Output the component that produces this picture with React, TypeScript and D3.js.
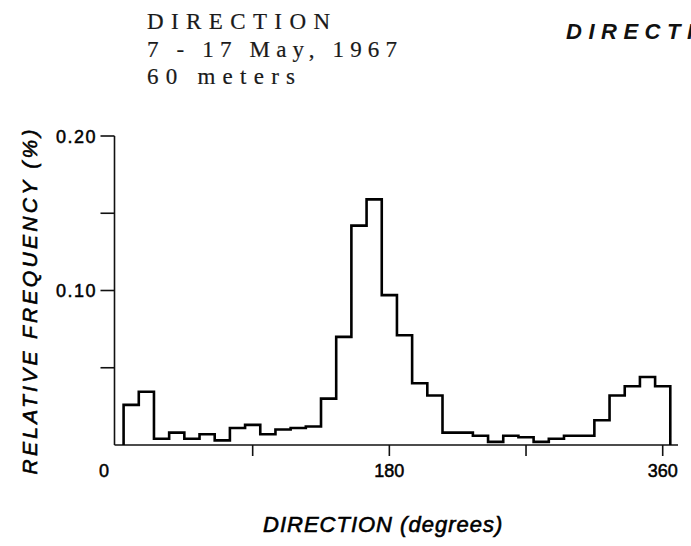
import React from "react";
import * as d3 from "d3";

const binCenters = [10,20,30,40,50,60,70,80,90,100,110,120,130,140,150,160,170,180,190,200,210,220,230,240,250,260,270,280,290,300,310,320,330,340,350,360];
const freq = [0.026,0.0345,0.004,0.008,0.004,0.007,0.003,0.011,0.013,0.007,0.010,0.011,0.012,0.030,0.070,0.142,0.159,0.097,0.071,0.040,0.032,0.008,0.008,0.006,0.002,0.006,0.005,0.002,0.004,0.006,0.006,0.016,0.032,0.038,0.044,0.038];
const binWidth = 10;
const xTicks = [90, 180, 270, 360];
const xTickLabels = [{ v: 0, t: "0" }, { v: 180, t: "180" }, { v: 360, t: "360" }];
const yTicks = [0.05, 0.10, 0.15, 0.20];
const yTickLabels = [{ v: 0.10, t: "0.10" }, { v: 0.20, t: "0.20" }];
const titleLines = ["DIRECTION", "7 - 17 May, 1967", "60 meters"];

export default function App() {
  const W = 691, H = 546;
  const x = d3.scaleLinear().domain([0, 360]).range([116, 662.7]);
  const y = d3.scaleLinear().domain([0, 0.2]).range([445, 136]);
  const axisX = 114.5;

  const pts: [number, number][] = [];
  pts.push([x(binCenters[0] - binWidth / 2), y(0)]);
  binCenters.forEach((c, i) => {
    pts.push([x(c - binWidth / 2), y(freq[i])]);
    pts.push([x(c + binWidth / 2), y(freq[i])]);
  });
  pts.push([x(binCenters[binCenters.length - 1] + binWidth / 2), y(0)]);
  const path = d3.line()(pts) || "";

  const sans = "'Liberation Sans', Arial, sans-serif";
  const serif = "'Liberation Serif', 'Times New Roman', serif";

  return (
    <svg width={W} height={H} style={{ position: "fixed", left: 0, top: 0, background: "#fff" }}>
      <rect x={0} y={0} width={W} height={H} fill="#fff" />
      {/* title */}
      {titleLines.map((t, i) => (
        <text key={t} x={147} y={29 + i * 27.5} fontFamily={serif} fontSize={23}
          textLength={[183, 250, 148][i]} lengthAdjust="spacing" fill="#1a1a1a"
          stroke="#1a1a1a" strokeWidth={0.2}>{t}</text>
      ))}
      <text x={566} y={39} fontFamily={sans} fontStyle="italic" fontWeight="bold" fontSize={22}
        letterSpacing={6.5} fill="#111">DIRECTION</text>

      {/* axes */}
      <line x1={axisX} y1={y(0.2)} x2={axisX} y2={y(0)} stroke="#111" strokeWidth={1.6} />
      <line x1={axisX} y1={y(0)} x2={678} y2={y(0)} stroke="#111" strokeWidth={1.6} />
      {yTicks.map(v => (
        <line key={v} x1={axisX - 14} x2={axisX} y1={y(v)} y2={y(v)} stroke="#111" strokeWidth={1.6} />
      ))}
      {xTicks.map(v => (
        <line key={v} x1={x(v)} x2={x(v)} y1={y(0)} y2={y(0) + 11} stroke="#111" strokeWidth={1.6} />
      ))}
      {yTickLabels.map(d => (
        <text key={d.t} x={97} y={y(d.v) + 6.5} textAnchor="end" fontFamily={sans} fontSize={18}
          letterSpacing={1.5} stroke="#000" strokeWidth={0.5} fill="#000">{d.t}</text>
      ))}
      {xTickLabels.map(d => (
        <text key={d.t} x={d.v === 0 ? 104 : x(d.v)} y={477} textAnchor="middle" fontFamily={sans} fontSize={18}
          stroke="#000" strokeWidth={0.5} fill="#000">{d.t}</text>
      ))}

      {/* histogram */}
      <path d={path} fill="none" stroke="#000" strokeWidth={2.6} strokeLinejoin="miter" />

      {/* axis titles */}
      <text x={263} y={532} fontFamily={sans} fontStyle="italic" fontSize={22} stroke="#000" strokeWidth={0.6}
        letterSpacing={1} fill="#000">DIRECTION (degrees)</text>
      <text transform="translate(37,302) rotate(-90)" textAnchor="middle" fontFamily={sans} fontStyle="italic"
        fontSize={21} stroke="#000" strokeWidth={0.6} textLength={345} lengthAdjust="spacing" fill="#000">RELATIVE FREQUENCY (%)</text>
    </svg>
  );
}
